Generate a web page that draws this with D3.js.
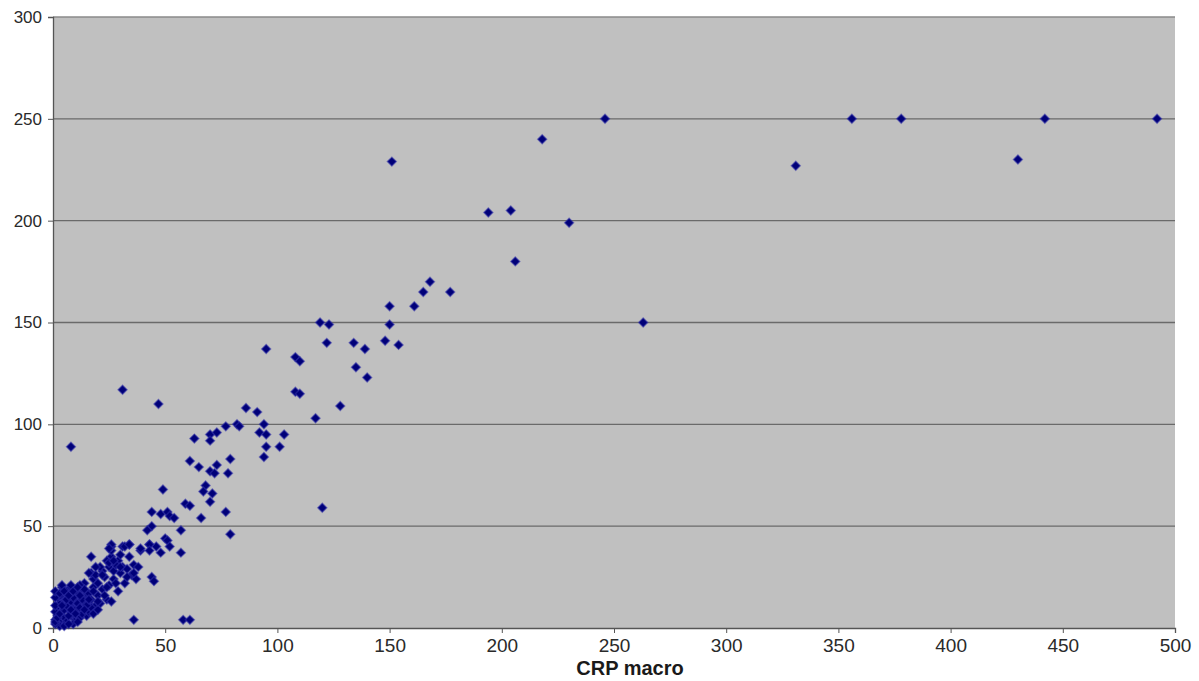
<!DOCTYPE html>
<html>
<head>
<meta charset="utf-8">
<script src="https://cdn.jsdelivr.net/npm/d3@7"></script>
<style>
  html, body { margin: 0; padding: 0; background: #ffffff; }
  svg { display: block; }
</style>
</head>
<body>
<svg id="chart" width="1199" height="681"></svg>
<script>
// ---- Data ----
const xTicks = [0, 50, 100, 150, 200, 250, 300, 350, 400, 450, 500];
const yTicks = [0, 50, 100, 150, 200, 250, 300];
const xTitle = "CRP macro";

// CRP macro values (x)
const crpMacro = [
  // dense cluster near origin
  1, 2, 3, 2, 4, 5, 3, 6, 7, 5, 8, 9, 4, 10, 11, 12, 8, 6, 10, 13,
  14, 15, 16, 7, 9, 12, 11, 13, 15, 17, 18, 16, 19, 20, 18, 17, 20, 21, 22, 23,
  24, 25, 22, 25, 26, 26, 27, 28, 29, 30, 31, 29, 32, 33, 34, 31, 35, 36, 30, 37,
  38, 24, 21, 19, 14, 12, 2, 1, 3, 5, 7, 8, 10, 6, 4, 9, 11, 13, 14, 16,
  17, 18, 20, 23, 26, 27, 28, 33, 4, 8, 17, 19, 25, 28, 30, 36, 44, 45, 39, 26,
  34, 43, 46, 16, 3, 6, 1, 9, 11, 14, 22, 24, 27,
  1, 1, 2, 3, 5, 6, 7, 8, 9, 10, 11, 12, 13, 15, 1, 1, 4, 6, 8, 10,
  12, 14, 16, 18, 20, 3, 5, 7, 9, 11,
  // low isolated points
  36, 58, 61,
  // 40 - 80 band
  61, 65, 73, 79, 70, 72, 78, 68, 67, 71, 70, 49, 59, 61, 77, 44, 48, 51, 52, 54,
  66, 44, 42, 57, 79, 50, 51, 52, 43, 39, 43, 48, 57, 26, 32, 34, 25,
  // 60 - 105 band
  63, 70, 70, 73, 77, 82, 83, 92, 94, 95, 103, 95, 101, 94, 86, 91,
  // outliers high
  8, 31, 47,
  // 105 - 160
  108, 110, 108, 110, 117, 128, 119, 123, 122, 134, 139, 148, 154, 135, 140, 150, 150, 161, 120, 95,
  // 160 - 270
  165, 168, 177, 151, 194, 204, 206, 230, 218, 246, 263,
  // upper right
  331, 356, 378, 430, 442, 492
];

// Response values (y)
const yValues = [
  4, 6, 3, 10, 8, 5, 12, 3, 9, 14, 6, 11, 20, 4, 8, 13, 16, 18, 18, 10,
  15, 6, 12, 13, 2, 5, 16, 19, 17, 14, 20, 8, 11, 16, 24, 27, 22, 12, 19, 25,
  14, 21, 28, 30, 35, 38, 24, 31, 18, 27, 30, 33, 22, 29, 35, 40, 26, 31, 36, 24,
  30, 33, 30, 26, 22, 21, 15, 8, 1, 1, 2, 20, 13, 10, 16, 7, 3, 7, 12, 17,
  10, 7, 9, 16, 13, 28, 22, 25, 21, 21, 35, 30, 32, 31, 30, 27, 25, 23, 38, 40,
  41, 41, 40, 27, 16, 14, 11, 9, 17, 19, 26, 20, 33,
  2, 3, 5, 7, 9, 11, 6, 13, 15, 9, 12, 10, 14, 11, 15, 18, 11, 14, 9, 7,
  16, 9, 14, 18, 13, 17, 18, 16, 18, 20,
  4, 4, 4,
  82, 79, 80, 83, 77, 76, 76, 70, 67, 66, 62, 68, 61, 60, 57, 57, 56, 57, 55, 54,
  54, 50, 48, 48, 46, 44, 43, 40, 41, 39, 38, 37, 37, 41, 40, 41, 39,
  93, 95, 92, 96, 99, 100, 99, 96, 100, 95, 95, 89, 89, 84, 108, 106,
  89, 117, 110,
  116, 115, 133, 131, 103, 109, 150, 149, 140, 140, 137, 141, 139, 128, 123, 149, 158, 158, 59, 137,
  165, 170, 165, 229, 204, 205, 180, 199, 240, 250, 150,
  227, 250, 250, 230, 250, 250
];

const points = crpMacro.map((v, i) => ({ x: v, y: yValues[i] }));

// ---- Layout ----
const W = 1199, H = 681;
const mLeft = 53, mRight = 1175, mTop = 17, mBottom = 628;

const svg = d3.select("#chart");
svg.append("rect").attr("width", W).attr("height", H).attr("fill", "#ffffff");

const xScale = d3.scaleLinear().domain([0, 500]).range([mLeft, mRight]);
const yScale = d3.scaleLinear().domain([0, 300]).range([mBottom, mTop]);

// plot area
svg.append("rect")
  .attr("x", mLeft).attr("y", mTop)
  .attr("width", mRight - mLeft).attr("height", mBottom - mTop)
  .attr("fill", "#c0c0c0");

// gridlines
svg.append("g")
  .selectAll("line")
  .data(yTicks.filter(d => d > 0))
  .join("line")
  .attr("x1", mLeft).attr("x2", mRight)
  .attr("y1", d => yScale(d)).attr("y2", d => yScale(d))
  .attr("stroke", d => d === 300 ? "#8a8a8a" : "#6a6a6a")
  .attr("stroke-width", 1.3);

// axes
const yAxis = d3.axisLeft(yScale).tickValues(yTicks).tickSize(5).tickPadding(6);
const gy = svg.append("g").attr("transform", `translate(${mLeft},0)`).call(yAxis);
gy.select(".domain").attr("stroke", "#555").attr("stroke-width", 1.3);
gy.selectAll(".tick line").attr("stroke", "#555");
gy.selectAll(".tick text")
  .attr("font-family", "Liberation Sans, Arial, sans-serif")
  .attr("font-size", 17).attr("fill", "#2a2a2a");

const xAxis = d3.axisBottom(xScale).tickValues(xTicks).tickSize(5).tickPadding(6);
const gx = svg.append("g").attr("transform", `translate(0,${mBottom})`).call(xAxis);
gx.select(".domain").attr("stroke", "#555").attr("stroke-width", 1.3);
gx.selectAll(".tick line").attr("stroke", "#555");
gx.selectAll(".tick text")
  .attr("font-family", "Liberation Sans, Arial, sans-serif")
  .attr("font-size", 19).attr("fill", "#2a2a2a");

// x title
svg.append("text")
  .attr("x", (mLeft + mRight) / 2 + 16).attr("y", 675)
  .attr("text-anchor", "middle")
  .attr("font-family", "Liberation Sans, Arial, sans-serif")
  .attr("font-weight", "bold")
  .attr("font-size", 20)
  .attr("fill", "#1a1a1a")
  .text(xTitle);

// markers (square diamonds)
const marker = d3.symbol().type(d3.symbolSquare).size(40);
svg.append("g")
  .selectAll("path")
  .data(points)
  .join("path")
  .attr("d", marker)
  .attr("transform", d => `translate(${xScale(d.x)},${yScale(d.y)}) rotate(45)`)
  .attr("fill", "#000078")
  .attr("stroke", "#3030a8")
  .attr("stroke-opacity", 0.55)
  .attr("stroke-width", 1.4);
</script>
</body>
</html>
